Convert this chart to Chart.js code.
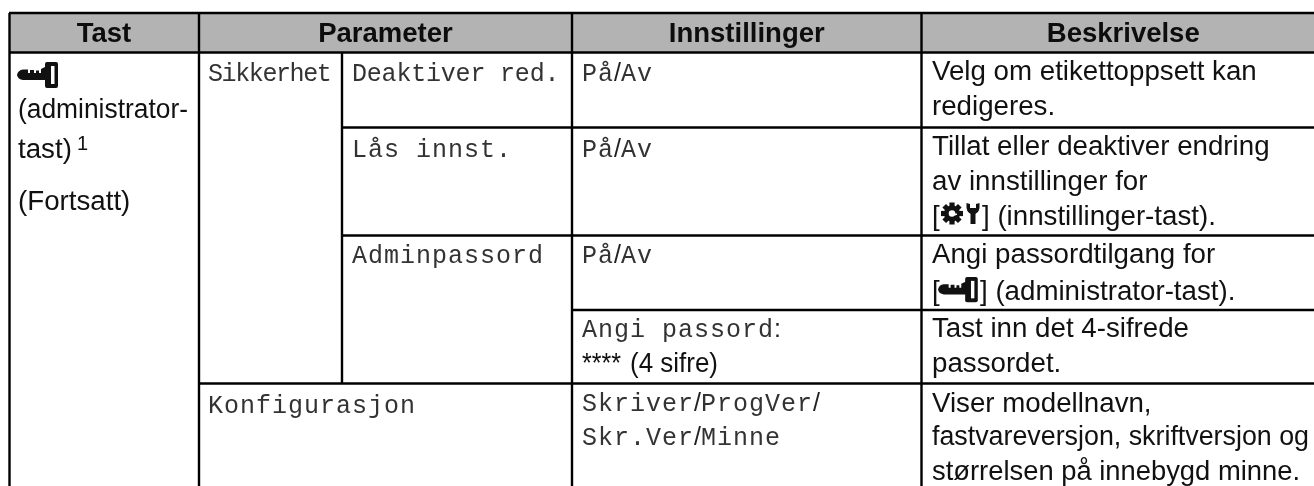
<!DOCTYPE html>
<html><head><meta charset="utf-8">
<script src="https://cdn.jsdelivr.net/npm/chart.js@4/dist/chart.umd.min.js"></script>
<style>html,body{margin:0;padding:0;background:#fff;overflow:hidden}canvas{display:block}</style>
</head><body><canvas id="c" width="1314" height="486"></canvas>
<script>
const headers = ['Tast','Parameter','Innstillinger','Beskrivelse'];
const headerSpans = [[9,199],[199,572],[572,921.5],[921.5,1325]];
const hRules = [[13,9,1314],[52.5,9,1314],[127.5,342,1314],[235.5,342,1314],[310,572,1314],[383.5,199,1314]];
const vRules = [[9.5,13,486],[199,13,486],[342,52.5,383.5],[572,13,486],[921.5,13,486]];
const sans = 'Liberation Sans', mono = 'Liberation Mono';
// each text line: left, baseline, runs (s = sans, m = mono, l = slash), optional width limit, optional mono letter spacing
const textLines = [
 [18,118,[['s','(administrator-']],170],
 [18,158,[['s','tast)']]],
 [18,210,[['s','(Fortsatt)']]],
 [208,81,[['m','Sikkerhet']],0,-2.4],
 [352,81,[['m','Deaktiver red.']],0,-1.2],
 [352,157,[['m','Lås innst.']]],
 [352,263,[['m','Adminpassord']]],
 [208,413,[['m','Konfigurasjon']]],
 [582,81,[['m','På'],['l','/'],['m','Av']]],
 [582,157,[['m','På'],['l','/'],['m','Av']]],
 [582,263,[['m','På'],['l','/'],['m','Av']]],
 [582,337,[['m','Angi passord'],['l',':']]],
 [582,372,[['s','****']],39],
 [630,372,[['s','(4 sifre)']],88],
 [582,411,[['m','Skriver'],['l','/'],['m','ProgVer'],['l','/']]],
 [582,445,[['m','Skr.Ver'],['l','/'],['m','Minne']]],
 [932,80,[['s','Velg om etikettoppsett kan']]],
 [932,115,[['s','redigeres.']]],
 [932,155,[['s','Tillat eller deaktiver endring']]],
 [932,190,[['s','av innstillinger for']]],
 [932,225,[['s','[']]],
 [982,225,[['s','] (innstillinger-tast).']]],
 [932,263,[['s','Angi passordtilgang for']]],
 [932,300,[['s','[']]],
 [980,300,[['s','] (administrator-tast).']]],
 [932,337,[['s','Tast inn det 4-sifrede']]],
 [932,372,[['s','passordet.']]],
 [932,412,[['s','Viser modellnavn,']]],
 [932,445,[['s','fastvareversjon, skriftversjon og']],377],
 [932,480,[['s','størrelsen på innebygd minne.']],368]
];
const superscripts = [[77,150,'1']];
const keyIcons = [[17,62,1],[938,277,0.97]];
const gearIcons = [[941,203]];

function drawKey(ctx,x,y,s){
  ctx.save();ctx.translate(x,y);ctx.scale(s,s);ctx.fillStyle='#111';
  ctx.beginPath();ctx.moveTo(0,13);ctx.quadraticCurveTo(1,8,6,7.5);ctx.lineTo(11,7.5);ctx.lineTo(11,11);ctx.lineTo(24,11);ctx.lineTo(24,7);ctx.lineTo(30,4);ctx.lineTo(30,18);ctx.lineTo(6,18);ctx.quadraticCurveTo(1,17.5,0,13);ctx.fill();
  ctx.fillRect(13,8,4,4);ctx.fillRect(19,8.5,3,3);
  ctx.beginPath();ctx.roundRect(28,0,13,26,2);ctx.fill();
  ctx.fillStyle='#fff';ctx.fillRect(34,4,3.5,18);
  ctx.restore();
}
function drawGear(ctx,x,y){
  ctx.save();ctx.translate(x,y);ctx.fillStyle='#111';
  for(let i=0;i<8;i++){ctx.save();ctx.translate(11,10.5);ctx.rotate(i*Math.PI/4);ctx.fillRect(-2.6,-11,5.2,6);ctx.restore();}
  ctx.beginPath();ctx.arc(11,10.5,8,0,7);ctx.arc(11,10.5,3.3,0,7,true);ctx.fill('evenodd');
  ctx.fillRect(29.5,8,5,13);
  ctx.beginPath();ctx.moveTo(25.5,0);ctx.lineTo(25.5,5);ctx.quadraticCurveTo(26.5,11,32,11);ctx.quadraticCurveTo(37.5,11,38.5,5);ctx.lineTo(38.5,0);ctx.lineTo(35,1);ctx.lineTo(35,5);ctx.lineTo(29,5);ctx.lineTo(29,1);ctx.closePath();ctx.fill();
  ctx.restore();
}
const tablePlugin = {id:'table',afterDatasetsDraw(chart){
  const {ctx,scales:{x,y}}=chart;
  ctx.save();ctx.textBaseline='alphabetic';
  ctx.fillStyle='#0d0d0d';
  headers.forEach((h,i)=>{
    ctx.font='bold 27.5px "'+sans+'"';ctx.textAlign='center';
    ctx.fillText(h,x.getPixelForValue((headerSpans[i][0]+headerSpans[i][1])/2),y.getPixelForValue(41.5));
  });
  ctx.textAlign='left';
  textLines.forEach(([cx,by,runs,limit,spacing])=>{
    let px=x.getPixelForValue(cx);
    runs.forEach(([f,t])=>{
      if(f==='m'){ctx.font='25px "'+mono+'"';ctx.letterSpacing=(1+(spacing||0))+'px';ctx.fillStyle='#333';}
      else if(f==='l'){ctx.font='25px "'+sans+'"';ctx.letterSpacing='0px';ctx.fillStyle='#222';}
      else{ctx.font='27.7px "'+sans+'"';ctx.letterSpacing='0px';ctx.fillStyle='#111';}
      if(limit) ctx.fillText(t,px,y.getPixelForValue(by),limit);
      else ctx.fillText(t,px,y.getPixelForValue(by));
      px+=ctx.measureText(t).width;
    });
  });
  ctx.letterSpacing='0px';ctx.fillStyle='#111';
  superscripts.forEach(([a,b,t])=>{ctx.font='20px "'+sans+'"';ctx.fillText(t,x.getPixelForValue(a),y.getPixelForValue(b));});
  keyIcons.forEach(([a,b,s])=>drawKey(ctx,x.getPixelForValue(a),y.getPixelForValue(b),s));
  gearIcons.forEach(([a,b])=>drawGear(ctx,x.getPixelForValue(a),y.getPixelForValue(b)));
  ctx.restore();
}};
const ruleStyle={borderColor:'#000',borderWidth:2.4,pointRadius:0,showLine:true,fill:false,tension:0};
const datasets=[
 {data:[{x:9,y:52.5},{x:1314,y:52.5}],borderWidth:0,pointRadius:0,showLine:true,backgroundColor:'#b3b3b3',fill:{value:13},order:5},
 ...hRules.map(([yy,a,b])=>({...ruleStyle,data:[{x:a,y:yy},{x:b,y:yy}]})),
 ...vRules.map(([xx,a,b])=>({...ruleStyle,data:[{x:xx,y:a},{x:xx,y:b}]}))
];
new Chart(document.getElementById('c'),{type:'scatter',data:{datasets},plugins:[tablePlugin],options:{
 responsive:false,animation:false,layout:{padding:0},
 plugins:{legend:{display:false},tooltip:{enabled:false},title:{display:false}},
 scales:{x:{type:'linear',display:false,min:0,max:1314},y:{type:'linear',display:false,min:0,max:486,reverse:true}}
}});
</script></body></html>
